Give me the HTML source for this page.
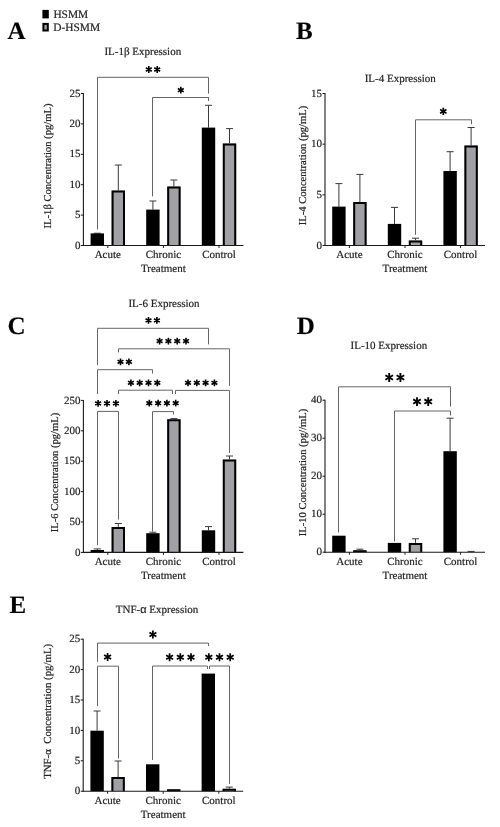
<!DOCTYPE html>
<html><head><meta charset="utf-8"><style>
html,body{margin:0;padding:0;background:#fff;width:500px;height:827px;overflow:hidden}
text{font-family:"Liberation Serif",serif;text-rendering:geometricPrecision;stroke:#2a2a2a;stroke-width:0.2px}
</style></head><body>
<svg width="500" height="827" viewBox="0 0 500 827" style="display:block;font-family:'Liberation Serif', serif;will-change:transform">
<rect width="500" height="827" fill="#fff"/>
<rect x="42.4" y="9.9" width="6.4" height="8.5" fill="#000"/>
<rect x="43.4" y="23.9" width="4.4" height="6.6" fill="#a0a0a0" stroke="#000" stroke-width="2"/>
<text x="53.4" y="17.8" font-size="11.4" text-anchor="start" font-weight="normal" fill="#222" >HSMM</text>
<text x="53.2" y="30.7" font-size="11.4" text-anchor="start" font-weight="normal" fill="#222" >D-HSMM</text>
<text x="7.5" y="38.5" font-size="25" text-anchor="start" font-weight="bold" fill="#000" >A</text>
<text x="296" y="39.0" font-size="25" text-anchor="start" font-weight="bold" fill="#000" >B</text>
<text x="7.6" y="334.3" font-size="25" text-anchor="start" font-weight="bold" fill="#000" >C</text>
<text x="296.8" y="333.6" font-size="25" text-anchor="start" font-weight="bold" fill="#000" >D</text>
<text x="9.6" y="612.8" font-size="25" text-anchor="start" font-weight="bold" fill="#000" >E</text>
<text x="104.4" y="55.4" font-size="11" text-anchor="start" font-weight="normal" fill="#222" >IL-1β Expression</text>
<line x1="97.30000000000001" y1="233.4" x2="97.30000000000001" y2="233.2" stroke="#3a3a3a" stroke-width="1"/>
<line x1="93.80000000000001" y1="233.2" x2="100.80000000000001" y2="233.2" stroke="#3a3a3a" stroke-width="1"/>
<line x1="118.30000000000001" y1="190.6" x2="118.30000000000001" y2="165" stroke="#3a3a3a" stroke-width="1"/>
<line x1="114.80000000000001" y1="165" x2="121.80000000000001" y2="165" stroke="#3a3a3a" stroke-width="1"/>
<line x1="152.9" y1="209.6" x2="152.9" y2="201" stroke="#3a3a3a" stroke-width="1"/>
<line x1="149.4" y1="201" x2="156.4" y2="201" stroke="#3a3a3a" stroke-width="1"/>
<line x1="173.9" y1="186.5" x2="173.9" y2="180" stroke="#3a3a3a" stroke-width="1"/>
<line x1="170.4" y1="180" x2="177.4" y2="180" stroke="#3a3a3a" stroke-width="1"/>
<line x1="208.5" y1="127.6" x2="208.5" y2="105.3" stroke="#3a3a3a" stroke-width="1"/>
<line x1="205.0" y1="105.3" x2="212.0" y2="105.3" stroke="#3a3a3a" stroke-width="1"/>
<line x1="229.5" y1="143.4" x2="229.5" y2="128.6" stroke="#3a3a3a" stroke-width="1"/>
<line x1="226.0" y1="128.6" x2="233.0" y2="128.6" stroke="#3a3a3a" stroke-width="1"/>
<rect x="90.60" y="233.4" width="13.4" height="12.10" fill="#000"/>
<rect x="111.60" y="190.60" width="13.4" height="54.90" fill="#a1a0a5"/>
<path d="M112.60,245.5V191.60H124.00V245.5" fill="none" stroke="#000" stroke-width="2.0"/>
<rect x="146.20" y="209.6" width="13.4" height="35.90" fill="#000"/>
<rect x="167.20" y="186.50" width="13.4" height="59.00" fill="#a1a0a5"/>
<path d="M168.20,245.5V187.50H179.60V245.5" fill="none" stroke="#000" stroke-width="2.0"/>
<rect x="201.80" y="127.6" width="13.4" height="117.90" fill="#000"/>
<rect x="222.80" y="143.40" width="13.4" height="102.10" fill="#a1a0a5"/>
<path d="M223.80,245.5V144.40H235.20V245.5" fill="none" stroke="#000" stroke-width="2.0"/>
<line x1="83.4" y1="93.0" x2="83.4" y2="246.0" stroke="#1a1a1a" stroke-width="1.1"/>
<line x1="82.9" y1="245.5" x2="243.4" y2="245.5" stroke="#1a1a1a" stroke-width="1.1"/>
<line x1="80.9" y1="245.5" x2="83.4" y2="245.5" stroke="#1a1a1a" stroke-width="1"/>
<text x="80.4" y="248.6" font-size="11" text-anchor="end" font-weight="normal" fill="#222" >0</text>
<line x1="80.9" y1="215.1" x2="83.4" y2="215.1" stroke="#1a1a1a" stroke-width="1"/>
<text x="80.4" y="218.2" font-size="11" text-anchor="end" font-weight="normal" fill="#222" >5</text>
<line x1="80.9" y1="184.7" x2="83.4" y2="184.7" stroke="#1a1a1a" stroke-width="1"/>
<text x="80.4" y="187.79999999999998" font-size="11" text-anchor="end" font-weight="normal" fill="#222" >10</text>
<line x1="80.9" y1="154.3" x2="83.4" y2="154.3" stroke="#1a1a1a" stroke-width="1"/>
<text x="80.4" y="157.4" font-size="11" text-anchor="end" font-weight="normal" fill="#222" >15</text>
<line x1="80.9" y1="123.9" x2="83.4" y2="123.9" stroke="#1a1a1a" stroke-width="1"/>
<text x="80.4" y="127.0" font-size="11" text-anchor="end" font-weight="normal" fill="#222" >20</text>
<line x1="80.9" y1="93.5" x2="83.4" y2="93.5" stroke="#1a1a1a" stroke-width="1"/>
<text x="80.4" y="96.6" font-size="11" text-anchor="end" font-weight="normal" fill="#222" >25</text>
<line x1="107.80000000000001" y1="245.5" x2="107.80000000000001" y2="248.0" stroke="#1a1a1a" stroke-width="1"/>
<line x1="163.4" y1="245.5" x2="163.4" y2="248.0" stroke="#1a1a1a" stroke-width="1"/>
<line x1="219.0" y1="245.5" x2="219.0" y2="248.0" stroke="#1a1a1a" stroke-width="1"/>
<text x="107.80000000000001" y="258.1" font-size="11" text-anchor="middle" font-weight="normal" fill="#222" >Acute</text>
<text x="163.4" y="258.1" font-size="11" text-anchor="middle" font-weight="normal" fill="#222" >Chronic</text>
<text x="219.0" y="258.1" font-size="11" text-anchor="middle" font-weight="normal" fill="#222" >Control</text>
<text x="163.4" y="272.1" font-size="11" text-anchor="middle" font-weight="normal" fill="#222" >Treatment</text>
<text transform="translate(50.8,166.0) rotate(-90)" x="0" y="0" font-size="10.6" text-anchor="middle" fill="#222">IL-1β Concentration (pg/mL)</text>
<path d="M97.5,229.4V77.3H208.5V93.7" stroke="#646464" stroke-width="1" fill="none"/>
<path d="M148.80,66.10L148.80,72.90M145.86,67.80L151.74,71.20M151.74,67.80L145.86,71.20" stroke="#000" stroke-width="1.6" fill="none"/>
<path d="M157.20,66.10L157.20,72.90M154.26,67.80L160.14,71.20M160.14,67.80L154.26,71.20" stroke="#000" stroke-width="1.6" fill="none"/>
<path d="M152.5,196.4V97.5H208.5V101" stroke="#646464" stroke-width="1" fill="none"/>
<path d="M180.80,86.80L180.80,93.60M177.86,88.50L183.74,91.90M183.74,88.50L177.86,91.90" stroke="#000" stroke-width="1.6" fill="none"/>
<text x="364.7" y="81.6" font-size="11" text-anchor="start" font-weight="normal" fill="#222" >IL-4 Expression</text>
<line x1="338.9" y1="206.6" x2="338.9" y2="183.6" stroke="#3a3a3a" stroke-width="1"/>
<line x1="335.4" y1="183.6" x2="342.4" y2="183.6" stroke="#3a3a3a" stroke-width="1"/>
<line x1="359.9" y1="202" x2="359.9" y2="174.4" stroke="#3a3a3a" stroke-width="1"/>
<line x1="356.4" y1="174.4" x2="363.4" y2="174.4" stroke="#3a3a3a" stroke-width="1"/>
<line x1="394.5" y1="223.9" x2="394.5" y2="207.4" stroke="#3a3a3a" stroke-width="1"/>
<line x1="391.0" y1="207.4" x2="398.0" y2="207.4" stroke="#3a3a3a" stroke-width="1"/>
<line x1="415.5" y1="240.4" x2="415.5" y2="238.2" stroke="#3a3a3a" stroke-width="1"/>
<line x1="412.0" y1="238.2" x2="419.0" y2="238.2" stroke="#3a3a3a" stroke-width="1"/>
<line x1="450.1" y1="171" x2="450.1" y2="151.7" stroke="#3a3a3a" stroke-width="1"/>
<line x1="446.6" y1="151.7" x2="453.6" y2="151.7" stroke="#3a3a3a" stroke-width="1"/>
<line x1="471.1" y1="145.5" x2="471.1" y2="127.5" stroke="#3a3a3a" stroke-width="1"/>
<line x1="467.6" y1="127.5" x2="474.6" y2="127.5" stroke="#3a3a3a" stroke-width="1"/>
<rect x="332.20" y="206.6" width="13.4" height="38.90" fill="#000"/>
<rect x="353.20" y="202.00" width="13.4" height="43.50" fill="#a1a0a5"/>
<path d="M354.20,245.5V203.00H365.60V245.5" fill="none" stroke="#000" stroke-width="2.0"/>
<rect x="387.80" y="223.9" width="13.4" height="21.60" fill="#000"/>
<rect x="408.80" y="240.40" width="13.4" height="5.10" fill="#a1a0a5"/>
<path d="M409.80,245.5V241.40H421.20V245.5" fill="none" stroke="#000" stroke-width="2.0"/>
<rect x="443.40" y="171" width="13.4" height="74.50" fill="#000"/>
<rect x="464.40" y="145.50" width="13.4" height="100.00" fill="#a1a0a5"/>
<path d="M465.40,245.5V146.50H476.80V245.5" fill="none" stroke="#000" stroke-width="2.0"/>
<line x1="325" y1="93.0" x2="325" y2="246.0" stroke="#1a1a1a" stroke-width="1.1"/>
<line x1="324.5" y1="245.5" x2="485" y2="245.5" stroke="#1a1a1a" stroke-width="1.1"/>
<line x1="322.5" y1="245.5" x2="325" y2="245.5" stroke="#1a1a1a" stroke-width="1"/>
<text x="322.0" y="248.6" font-size="11" text-anchor="end" font-weight="normal" fill="#222" >0</text>
<line x1="322.5" y1="194.83333333333334" x2="325" y2="194.83333333333334" stroke="#1a1a1a" stroke-width="1"/>
<text x="322.0" y="197.93333333333334" font-size="11" text-anchor="end" font-weight="normal" fill="#222" >5</text>
<line x1="322.5" y1="144.16666666666669" x2="325" y2="144.16666666666669" stroke="#1a1a1a" stroke-width="1"/>
<text x="322.0" y="147.26666666666668" font-size="11" text-anchor="end" font-weight="normal" fill="#222" >10</text>
<line x1="322.5" y1="93.5" x2="325" y2="93.5" stroke="#1a1a1a" stroke-width="1"/>
<text x="322.0" y="96.6" font-size="11" text-anchor="end" font-weight="normal" fill="#222" >15</text>
<line x1="349.4" y1="245.5" x2="349.4" y2="248.0" stroke="#1a1a1a" stroke-width="1"/>
<line x1="405.0" y1="245.5" x2="405.0" y2="248.0" stroke="#1a1a1a" stroke-width="1"/>
<line x1="460.6" y1="245.5" x2="460.6" y2="248.0" stroke="#1a1a1a" stroke-width="1"/>
<text x="349.4" y="258.1" font-size="11" text-anchor="middle" font-weight="normal" fill="#222" >Acute</text>
<text x="405.0" y="258.1" font-size="11" text-anchor="middle" font-weight="normal" fill="#222" >Chronic</text>
<text x="460.6" y="258.1" font-size="11" text-anchor="middle" font-weight="normal" fill="#222" >Control</text>
<text x="405.0" y="272.1" font-size="11" text-anchor="middle" font-weight="normal" fill="#222" >Treatment</text>
<text transform="translate(305.9,165.5) rotate(-90)" x="0" y="0" font-size="10.6" text-anchor="middle" fill="#222">IL-4 Concentration (pg/mL)</text>
<path d="M415.5,234.8V119.8H471.5V124.2" stroke="#646464" stroke-width="1" fill="none"/>
<path d="M443.30,107.70L443.30,115.10M440.10,109.55L446.50,113.25M446.50,109.55L440.10,113.25" stroke="#000" stroke-width="1.7" fill="none"/>
<text x="128.4" y="306.5" font-size="11" text-anchor="start" font-weight="normal" fill="#222" >IL-6 Expression</text>
<line x1="97.30000000000001" y1="550" x2="97.30000000000001" y2="548.9" stroke="#3a3a3a" stroke-width="1"/>
<line x1="93.80000000000001" y1="548.9" x2="100.80000000000001" y2="548.9" stroke="#3a3a3a" stroke-width="1"/>
<line x1="118.30000000000001" y1="527.1" x2="118.30000000000001" y2="523.5" stroke="#3a3a3a" stroke-width="1"/>
<line x1="114.80000000000001" y1="523.5" x2="121.80000000000001" y2="523.5" stroke="#3a3a3a" stroke-width="1"/>
<line x1="152.9" y1="533.2" x2="152.9" y2="532.2" stroke="#3a3a3a" stroke-width="1"/>
<line x1="149.4" y1="532.2" x2="156.4" y2="532.2" stroke="#3a3a3a" stroke-width="1"/>
<line x1="173.9" y1="419.3" x2="173.9" y2="418.6" stroke="#3a3a3a" stroke-width="1"/>
<line x1="170.4" y1="418.6" x2="177.4" y2="418.6" stroke="#3a3a3a" stroke-width="1"/>
<line x1="208.5" y1="530.3" x2="208.5" y2="526.6" stroke="#3a3a3a" stroke-width="1"/>
<line x1="205.0" y1="526.6" x2="212.0" y2="526.6" stroke="#3a3a3a" stroke-width="1"/>
<line x1="229.5" y1="459.6" x2="229.5" y2="456" stroke="#3a3a3a" stroke-width="1"/>
<line x1="226.0" y1="456" x2="233.0" y2="456" stroke="#3a3a3a" stroke-width="1"/>
<rect x="90.60" y="550" width="13.4" height="2.40" fill="#000"/>
<rect x="111.60" y="527.10" width="13.4" height="25.30" fill="#a1a0a5"/>
<path d="M112.60,552.4V528.10H124.00V552.4" fill="none" stroke="#000" stroke-width="2.0"/>
<rect x="146.20" y="533.2" width="13.4" height="19.20" fill="#000"/>
<rect x="167.20" y="419.30" width="13.4" height="133.10" fill="#a1a0a5"/>
<path d="M168.20,552.4V420.30H179.60V552.4" fill="none" stroke="#000" stroke-width="2.0"/>
<rect x="201.80" y="530.3" width="13.4" height="22.10" fill="#000"/>
<rect x="222.80" y="459.60" width="13.4" height="92.80" fill="#a1a0a5"/>
<path d="M223.80,552.4V460.60H235.20V552.4" fill="none" stroke="#000" stroke-width="2.0"/>
<line x1="83.4" y1="399.9" x2="83.4" y2="552.9" stroke="#1a1a1a" stroke-width="1.1"/>
<line x1="82.9" y1="552.4" x2="243.4" y2="552.4" stroke="#1a1a1a" stroke-width="1.1"/>
<line x1="80.9" y1="552.4" x2="83.4" y2="552.4" stroke="#1a1a1a" stroke-width="1"/>
<text x="80.4" y="555.5" font-size="11" text-anchor="end" font-weight="normal" fill="#222" >0</text>
<line x1="80.9" y1="522.0" x2="83.4" y2="522.0" stroke="#1a1a1a" stroke-width="1"/>
<text x="80.4" y="525.1" font-size="11" text-anchor="end" font-weight="normal" fill="#222" >50</text>
<line x1="80.9" y1="491.59999999999997" x2="83.4" y2="491.59999999999997" stroke="#1a1a1a" stroke-width="1"/>
<text x="80.4" y="494.7" font-size="11" text-anchor="end" font-weight="normal" fill="#222" >100</text>
<line x1="80.9" y1="461.2" x2="83.4" y2="461.2" stroke="#1a1a1a" stroke-width="1"/>
<text x="80.4" y="464.3" font-size="11" text-anchor="end" font-weight="normal" fill="#222" >150</text>
<line x1="80.9" y1="430.79999999999995" x2="83.4" y2="430.79999999999995" stroke="#1a1a1a" stroke-width="1"/>
<text x="80.4" y="433.9" font-size="11" text-anchor="end" font-weight="normal" fill="#222" >200</text>
<line x1="80.9" y1="400.4" x2="83.4" y2="400.4" stroke="#1a1a1a" stroke-width="1"/>
<text x="80.4" y="403.5" font-size="11" text-anchor="end" font-weight="normal" fill="#222" >250</text>
<line x1="107.80000000000001" y1="552.4" x2="107.80000000000001" y2="554.9" stroke="#1a1a1a" stroke-width="1"/>
<line x1="163.4" y1="552.4" x2="163.4" y2="554.9" stroke="#1a1a1a" stroke-width="1"/>
<line x1="219.0" y1="552.4" x2="219.0" y2="554.9" stroke="#1a1a1a" stroke-width="1"/>
<text x="107.80000000000001" y="565.0" font-size="11" text-anchor="middle" font-weight="normal" fill="#222" >Acute</text>
<text x="163.4" y="565.0" font-size="11" text-anchor="middle" font-weight="normal" fill="#222" >Chronic</text>
<text x="219.0" y="565.0" font-size="11" text-anchor="middle" font-weight="normal" fill="#222" >Control</text>
<text x="163.4" y="579.0" font-size="11" text-anchor="middle" font-weight="normal" fill="#222" >Treatment</text>
<text transform="translate(58.0,472.5) rotate(-90)" x="0" y="0" font-size="10.6" text-anchor="middle" fill="#222">IL-6 Concentration (pg/mL)</text>
<path d="M97.5,365.2V328.3H208.5V344.4" stroke="#646464" stroke-width="1" fill="none"/>
<path d="M148.50,317.00L148.50,323.80M145.56,318.70L151.44,322.10M151.44,318.70L145.56,322.10" stroke="#000" stroke-width="1.6" fill="none"/>
<path d="M156.90,317.00L156.90,323.80M153.96,318.70L159.84,322.10M159.84,318.70L153.96,322.10" stroke="#000" stroke-width="1.6" fill="none"/>
<path d="M118.5,352.4V348.8H229.5V386" stroke="#646464" stroke-width="1" fill="none"/>
<path d="M159.60,337.70L159.60,344.50M156.66,339.40L162.54,342.80M162.54,339.40L156.66,342.80" stroke="#000" stroke-width="1.6" fill="none"/>
<path d="M168.40,337.70L168.40,344.50M165.46,339.40L171.34,342.80M171.34,339.40L165.46,342.80" stroke="#000" stroke-width="1.6" fill="none"/>
<path d="M177.20,337.70L177.20,344.50M174.26,339.40L180.14,342.80M180.14,339.40L174.26,342.80" stroke="#000" stroke-width="1.6" fill="none"/>
<path d="M186.00,337.70L186.00,344.50M183.06,339.40L188.94,342.80M188.94,339.40L183.06,342.80" stroke="#000" stroke-width="1.6" fill="none"/>
<path d="M97.5,393.9V369.7H152.5V373.6" stroke="#646464" stroke-width="1" fill="none"/>
<path d="M120.50,358.40L120.50,365.20M117.56,360.10L123.44,363.50M123.44,360.10L117.56,363.50" stroke="#000" stroke-width="1.6" fill="none"/>
<path d="M128.90,358.40L128.90,365.20M125.96,360.10L131.84,363.50M131.84,360.10L125.96,363.50" stroke="#000" stroke-width="1.6" fill="none"/>
<path d="M118.5,394V390.2H172.5V394" stroke="#646464" stroke-width="1" fill="none"/>
<path d="M130.90,379.40L130.90,386.20M127.96,381.10L133.84,384.50M133.84,381.10L127.96,384.50" stroke="#000" stroke-width="1.6" fill="none"/>
<path d="M139.70,379.40L139.70,386.20M136.76,381.10L142.64,384.50M142.64,381.10L136.76,384.50" stroke="#000" stroke-width="1.6" fill="none"/>
<path d="M148.50,379.40L148.50,386.20M145.56,381.10L151.44,384.50M151.44,381.10L145.56,384.50" stroke="#000" stroke-width="1.6" fill="none"/>
<path d="M157.30,379.40L157.30,386.20M154.36,381.10L160.24,384.50M160.24,381.10L154.36,384.50" stroke="#000" stroke-width="1.6" fill="none"/>
<path d="M175.5,394V390.4H229.5V452.9" stroke="#646464" stroke-width="1" fill="none"/>
<path d="M188.00,379.40L188.00,386.20M185.06,381.10L190.94,384.50M190.94,381.10L185.06,384.50" stroke="#000" stroke-width="1.6" fill="none"/>
<path d="M196.80,379.40L196.80,386.20M193.86,381.10L199.74,384.50M199.74,381.10L193.86,384.50" stroke="#000" stroke-width="1.6" fill="none"/>
<path d="M205.60,379.40L205.60,386.20M202.66,381.10L208.54,384.50M208.54,381.10L202.66,384.50" stroke="#000" stroke-width="1.6" fill="none"/>
<path d="M214.40,379.40L214.40,386.20M211.46,381.10L217.34,384.50M217.34,381.10L211.46,384.50" stroke="#000" stroke-width="1.6" fill="none"/>
<path d="M97.5,545.2V411.4H118.5V519.6" stroke="#646464" stroke-width="1" fill="none"/>
<path d="M98.10,400.00L98.10,406.80M95.16,401.70L101.04,405.10M101.04,401.70L95.16,405.10" stroke="#000" stroke-width="1.6" fill="none"/>
<path d="M107.00,400.00L107.00,406.80M104.06,401.70L109.94,405.10M109.94,401.70L104.06,405.10" stroke="#000" stroke-width="1.6" fill="none"/>
<path d="M115.90,400.00L115.90,406.80M112.96,401.70L118.84,405.10M118.84,401.70L112.96,405.10" stroke="#000" stroke-width="1.6" fill="none"/>
<path d="M152.5,531.5V411.6H173.5V414.6" stroke="#646464" stroke-width="1" fill="none"/>
<path d="M149.30,399.80L149.30,406.60M146.36,401.50L152.24,404.90M152.24,401.50L146.36,404.90" stroke="#000" stroke-width="1.6" fill="none"/>
<path d="M158.10,399.80L158.10,406.60M155.16,401.50L161.04,404.90M161.04,401.50L155.16,404.90" stroke="#000" stroke-width="1.6" fill="none"/>
<path d="M166.90,399.80L166.90,406.60M163.96,401.50L169.84,404.90M169.84,401.50L163.96,404.90" stroke="#000" stroke-width="1.6" fill="none"/>
<path d="M175.70,399.80L175.70,406.60M172.76,401.50L178.64,404.90M178.64,401.50L172.76,404.90" stroke="#000" stroke-width="1.6" fill="none"/>
<text x="350.5" y="348.8" font-size="11" text-anchor="start" font-weight="normal" fill="#222" >IL-10 Expression</text>
<line x1="359.9" y1="550.3" x2="359.9" y2="549.2" stroke="#3a3a3a" stroke-width="1"/>
<line x1="356.4" y1="549.2" x2="363.4" y2="549.2" stroke="#3a3a3a" stroke-width="1"/>
<line x1="415.5" y1="542.9" x2="415.5" y2="538.8" stroke="#3a3a3a" stroke-width="1"/>
<line x1="412.0" y1="538.8" x2="419.0" y2="538.8" stroke="#3a3a3a" stroke-width="1"/>
<line x1="450.1" y1="451.2" x2="450.1" y2="418.2" stroke="#3a3a3a" stroke-width="1"/>
<line x1="446.6" y1="418.2" x2="453.6" y2="418.2" stroke="#3a3a3a" stroke-width="1"/>
<line x1="471.1" y1="552.2" x2="471.1" y2="551.4" stroke="#3a3a3a" stroke-width="1"/>
<line x1="467.6" y1="551.4" x2="474.6" y2="551.4" stroke="#3a3a3a" stroke-width="1"/>
<rect x="332.20" y="535.7" width="13.4" height="16.50" fill="#000"/>
<rect x="353.20" y="550.30" width="13.4" height="1.90" fill="#a1a0a5"/>
<path d="M354.20,552.2V551.30H365.60V552.2" fill="none" stroke="#000" stroke-width="2.0"/>
<rect x="387.80" y="542.9" width="13.4" height="9.30" fill="#000"/>
<rect x="408.80" y="542.90" width="13.4" height="9.30" fill="#a1a0a5"/>
<path d="M409.80,552.2V543.90H421.20V552.2" fill="none" stroke="#000" stroke-width="2.0"/>
<rect x="443.40" y="451.2" width="13.4" height="101.00" fill="#000"/>
<line x1="325" y1="399.70000000000005" x2="325" y2="552.7" stroke="#1a1a1a" stroke-width="1.1"/>
<line x1="324.5" y1="552.2" x2="485" y2="552.2" stroke="#1a1a1a" stroke-width="1.1"/>
<line x1="322.5" y1="552.2" x2="325" y2="552.2" stroke="#1a1a1a" stroke-width="1"/>
<text x="322.0" y="555.3000000000001" font-size="11" text-anchor="end" font-weight="normal" fill="#222" >0</text>
<line x1="322.5" y1="514.2" x2="325" y2="514.2" stroke="#1a1a1a" stroke-width="1"/>
<text x="322.0" y="517.3000000000001" font-size="11" text-anchor="end" font-weight="normal" fill="#222" >10</text>
<line x1="322.5" y1="476.20000000000005" x2="325" y2="476.20000000000005" stroke="#1a1a1a" stroke-width="1"/>
<text x="322.0" y="479.30000000000007" font-size="11" text-anchor="end" font-weight="normal" fill="#222" >20</text>
<line x1="322.5" y1="438.20000000000005" x2="325" y2="438.20000000000005" stroke="#1a1a1a" stroke-width="1"/>
<text x="322.0" y="441.30000000000007" font-size="11" text-anchor="end" font-weight="normal" fill="#222" >30</text>
<line x1="322.5" y1="400.20000000000005" x2="325" y2="400.20000000000005" stroke="#1a1a1a" stroke-width="1"/>
<text x="322.0" y="403.30000000000007" font-size="11" text-anchor="end" font-weight="normal" fill="#222" >40</text>
<line x1="349.4" y1="552.2" x2="349.4" y2="554.7" stroke="#1a1a1a" stroke-width="1"/>
<line x1="405.0" y1="552.2" x2="405.0" y2="554.7" stroke="#1a1a1a" stroke-width="1"/>
<line x1="460.6" y1="552.2" x2="460.6" y2="554.7" stroke="#1a1a1a" stroke-width="1"/>
<text x="349.4" y="564.8000000000001" font-size="11" text-anchor="middle" font-weight="normal" fill="#222" >Acute</text>
<text x="405.0" y="564.8000000000001" font-size="11" text-anchor="middle" font-weight="normal" fill="#222" >Chronic</text>
<text x="460.6" y="564.8000000000001" font-size="11" text-anchor="middle" font-weight="normal" fill="#222" >Control</text>
<text x="405.0" y="578.8000000000001" font-size="11" text-anchor="middle" font-weight="normal" fill="#222" >Treatment</text>
<text transform="translate(305.9,472.5) rotate(-90)" x="0" y="0" font-size="10.6" text-anchor="middle" fill="#222">IL-10 Concentration (pg//mL)</text>
<path d="M338.5,532.5V386.8H450.5V406.6" stroke="#646464" stroke-width="1" fill="none"/>
<path d="M389.20,373.10L389.20,381.90M385.39,375.30L393.01,379.70M393.01,375.30L385.39,379.70" stroke="#000" stroke-width="1.85" fill="none"/>
<path d="M400.40,373.10L400.40,381.90M396.59,375.30L404.21,379.70M404.21,375.30L396.59,379.70" stroke="#000" stroke-width="1.85" fill="none"/>
<path d="M394.5,541.4V411H450.5V415.5" stroke="#646464" stroke-width="1" fill="none"/>
<path d="M417.00,397.20L417.00,406.00M413.19,399.40L420.81,403.80M420.81,399.40L413.19,403.80" stroke="#000" stroke-width="1.85" fill="none"/>
<path d="M428.20,397.20L428.20,406.00M424.39,399.40L432.01,403.80M432.01,399.40L424.39,403.80" stroke="#000" stroke-width="1.85" fill="none"/>
<text x="115.8" y="612.6" font-size="11" text-anchor="start" font-weight="normal" fill="#222" >TNF-<tspan style="font-family:Liberation Sans">α</tspan> Expression</text>
<line x1="97.1" y1="730.7" x2="97.1" y2="711" stroke="#3a3a3a" stroke-width="1"/>
<line x1="93.6" y1="711" x2="100.6" y2="711" stroke="#3a3a3a" stroke-width="1"/>
<line x1="118.1" y1="777.1" x2="118.1" y2="761" stroke="#3a3a3a" stroke-width="1"/>
<line x1="114.6" y1="761" x2="121.6" y2="761" stroke="#3a3a3a" stroke-width="1"/>
<line x1="229.3" y1="788.8" x2="229.3" y2="787.1" stroke="#3a3a3a" stroke-width="1"/>
<line x1="225.8" y1="787.1" x2="232.8" y2="787.1" stroke="#3a3a3a" stroke-width="1"/>
<rect x="90.40" y="730.7" width="13.4" height="60.50" fill="#000"/>
<rect x="111.40" y="777.10" width="13.4" height="14.10" fill="#a1a0a5"/>
<path d="M112.40,791.2V778.10H123.80V791.2" fill="none" stroke="#000" stroke-width="2.0"/>
<rect x="146.00" y="764.3" width="13.4" height="26.90" fill="#000"/>
<rect x="167.00" y="789.30" width="13.4" height="1.90" fill="#a1a0a5"/>
<path d="M168.00,791.2V790.30H179.40V791.2" fill="none" stroke="#000" stroke-width="2.0"/>
<rect x="201.60" y="673.6" width="13.4" height="117.60" fill="#000"/>
<rect x="222.60" y="788.80" width="13.4" height="2.40" fill="#a1a0a5"/>
<path d="M223.60,791.2V789.80H235.00V791.2" fill="none" stroke="#000" stroke-width="2.0"/>
<line x1="83.2" y1="638.7" x2="83.2" y2="791.7" stroke="#1a1a1a" stroke-width="1.1"/>
<line x1="82.7" y1="791.2" x2="243.2" y2="791.2" stroke="#1a1a1a" stroke-width="1.1"/>
<line x1="80.7" y1="791.2" x2="83.2" y2="791.2" stroke="#1a1a1a" stroke-width="1"/>
<text x="80.2" y="794.3000000000001" font-size="11" text-anchor="end" font-weight="normal" fill="#222" >0</text>
<line x1="80.7" y1="760.8000000000001" x2="83.2" y2="760.8000000000001" stroke="#1a1a1a" stroke-width="1"/>
<text x="80.2" y="763.9000000000001" font-size="11" text-anchor="end" font-weight="normal" fill="#222" >5</text>
<line x1="80.7" y1="730.4000000000001" x2="83.2" y2="730.4000000000001" stroke="#1a1a1a" stroke-width="1"/>
<text x="80.2" y="733.5000000000001" font-size="11" text-anchor="end" font-weight="normal" fill="#222" >10</text>
<line x1="80.7" y1="700.0" x2="83.2" y2="700.0" stroke="#1a1a1a" stroke-width="1"/>
<text x="80.2" y="703.1" font-size="11" text-anchor="end" font-weight="normal" fill="#222" >15</text>
<line x1="80.7" y1="669.6" x2="83.2" y2="669.6" stroke="#1a1a1a" stroke-width="1"/>
<text x="80.2" y="672.7" font-size="11" text-anchor="end" font-weight="normal" fill="#222" >20</text>
<line x1="80.7" y1="639.2" x2="83.2" y2="639.2" stroke="#1a1a1a" stroke-width="1"/>
<text x="80.2" y="642.3000000000001" font-size="11" text-anchor="end" font-weight="normal" fill="#222" >25</text>
<line x1="107.6" y1="791.2" x2="107.6" y2="793.7" stroke="#1a1a1a" stroke-width="1"/>
<line x1="163.2" y1="791.2" x2="163.2" y2="793.7" stroke="#1a1a1a" stroke-width="1"/>
<line x1="218.8" y1="791.2" x2="218.8" y2="793.7" stroke="#1a1a1a" stroke-width="1"/>
<text x="107.6" y="803.8000000000001" font-size="11" text-anchor="middle" font-weight="normal" fill="#222" >Acute</text>
<text x="163.2" y="803.8000000000001" font-size="11" text-anchor="middle" font-weight="normal" fill="#222" >Chronic</text>
<text x="218.8" y="803.8000000000001" font-size="11" text-anchor="middle" font-weight="normal" fill="#222" >Control</text>
<text x="163.2" y="817.8000000000001" font-size="11" text-anchor="middle" font-weight="normal" fill="#222" >Treatment</text>
<text transform="translate(50.7,711.35) rotate(-90)" x="0" y="0" font-size="10.8" text-anchor="middle" fill="#222">TNF-α&#160; Concentration (pg/mL)</text>
<path d="M97.5,661.9V643.1H208.5V646" stroke="#646464" stroke-width="1" fill="none"/>
<path d="M152.90,630.40L152.90,638.40M149.44,632.40L156.36,636.40M156.36,632.40L149.44,636.40" stroke="#000" stroke-width="1.7" fill="none"/>
<path d="M97.5,706V666.2H118.5V758.6" stroke="#646464" stroke-width="1" fill="none"/>
<path d="M107.60,653.00L107.60,661.00M104.14,655.00L111.06,659.00M111.06,655.00L104.14,659.00" stroke="#000" stroke-width="1.7" fill="none"/>
<path d="M152.5,760V666H207.5V669" stroke="#646464" stroke-width="1" fill="none"/>
<path d="M169.60,653.30L169.60,661.30M166.14,655.30L173.06,659.30M173.06,655.30L166.14,659.30" stroke="#000" stroke-width="1.7" fill="none"/>
<path d="M180.30,653.30L180.30,661.30M176.84,655.30L183.76,659.30M183.76,655.30L176.84,659.30" stroke="#000" stroke-width="1.7" fill="none"/>
<path d="M191.00,653.30L191.00,661.30M187.54,655.30L194.46,659.30M194.46,655.30L187.54,659.30" stroke="#000" stroke-width="1.7" fill="none"/>
<path d="M209.5,669V666H229.5V784" stroke="#646464" stroke-width="1" fill="none"/>
<path d="M208.80,653.30L208.80,661.30M205.34,655.30L212.26,659.30M212.26,655.30L205.34,659.30" stroke="#000" stroke-width="1.7" fill="none"/>
<path d="M219.50,653.30L219.50,661.30M216.04,655.30L222.96,659.30M222.96,655.30L216.04,659.30" stroke="#000" stroke-width="1.7" fill="none"/>
<path d="M230.20,653.30L230.20,661.30M226.74,655.30L233.66,659.30M233.66,655.30L226.74,659.30" stroke="#000" stroke-width="1.7" fill="none"/>
</svg>
</body></html>
